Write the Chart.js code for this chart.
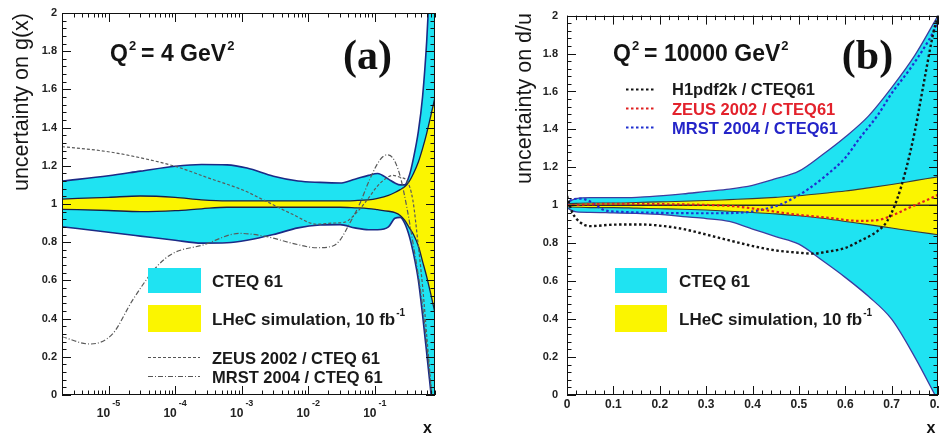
<!DOCTYPE html>
<html>
<head>
<meta charset="utf-8">
<script src="https://cdn.jsdelivr.net/npm/chart.js@4.4.1/dist/chart.umd.min.js"></script>
<style>
  html, body { margin: 0; padding: 0; background: #fff; }
  #wrap { position: relative; width: 940px; height: 434px; overflow: hidden; }
  canvas { position: absolute; top: 0; }
  #cA { left: 0; }
  #cB { left: 470px; }
</style>
</head>
<body>
<div id="wrap">
  <canvas id="cA" width="470" height="434"></canvas>
  <canvas id="cB" width="470" height="434"></canvas>
</div>
<script>
// ---- panel (a): uncertainty on g(x), Q^2 = 4 GeV^2 (log x) ----
const bandXA   = [2e-6, 1e-5, 3e-5, 1e-4, 2.5e-4, 6e-4, 1.2e-3, 3e-3, 7e-3, 0.015, 0.03, 0.05, 0.08, 0.11, 0.16, 0.2, 0.24, 0.28, 0.33, 0.38, 0.45, 0.52, 0.6, 0.7, 0.8];
const cteqHiA  = [1.12, 1.148, 1.172, 1.198, 1.207, 1.205, 1.188, 1.145, 1.12, 1.113, 1.11, 1.13, 1.15, 1.16, 1.13, 1.11, 1.10, 1.10, 1.15, 1.24, 1.38, 1.56, 1.85, 2.3, 2.8];
const cteqLoA  = [0.881, 0.852, 0.832, 0.81, 0.795, 0.797, 0.81, 0.84, 0.875, 0.89, 0.892, 0.875, 0.865, 0.865, 0.88, 0.925, 0.93, 0.90, 0.83, 0.74, 0.60, 0.42, 0.22, 0.0, -0.2];
const lhecHiA  = [1.026, 1.035, 1.042, 1.035, 1.022, 1.016, 1.016, 1.016, 1.016, 1.016, 1.016, 1.018, 1.022, 1.03, 1.045, 1.06, 1.075, 1.09, 1.12, 1.16, 1.22, 1.29, 1.37, 1.47, 1.56];
const lhecLoA  = [0.972, 0.966, 0.96, 0.965, 0.975, 0.983, 0.983, 0.983, 0.983, 0.983, 0.983, 0.98, 0.976, 0.97, 0.962, 0.955, 0.94, 0.915, 0.875, 0.84, 0.78, 0.70, 0.62, 0.52, 0.43];

const zeusXA = [2e-6, 7.3e-6, 1.86e-5, 1.05e-4, 3.3e-4, 1.04e-3, 2.4e-3, 5.8e-3, 0.0134, 0.0233, 0.0354, 0.05, 0.076, 0.107, 0.141, 0.187, 0.238, 0.303, 0.372, 0.443, 0.527, 0.605, 0.695, 0.8];
const zeusYA = [1.30, 1.28, 1.257, 1.195, 1.134, 1.073, 1.012, 0.946, 0.894, 0.90, 0.905, 0.945, 1.02, 1.09, 1.13, 1.15, 1.14, 1.12, 1.02, 0.8, 0.55, 0.3, 0.05, -0.2];
const mrstXA = [2e-6, 5.2e-6, 1.15e-5, 2.3e-5, 5.3e-5, 9.1e-5, 2.6e-4, 9.3e-4, 2.4e-3, 5.8e-3, 0.0134, 0.0233, 0.0298, 0.042, 0.059, 0.084, 0.119, 0.151, 0.187, 0.238, 0.303, 0.372, 0.443, 0.527, 0.627, 0.72, 0.8];
const mrstYA = [0.305, 0.267, 0.32, 0.497, 0.672, 0.74, 0.785, 0.846, 0.829, 0.794, 0.771, 0.78, 0.81, 0.9, 1.0, 1.13, 1.23, 1.257, 1.24, 1.15, 0.98, 0.8, 0.64, 0.45, 0.2, 0.0, -0.15];

const decadesA = [-5, -4, -3, -2, -1];

// ---- panel (b): uncertainty on d/u, Q^2 = 10000 GeV^2 (linear x) ----
const bandXB  = [0, 0.02, 0.05, 0.1, 0.15, 0.2, 0.25, 0.3, 0.35, 0.4, 0.45, 0.5, 0.55, 0.6, 0.65, 0.7, 0.75, 0.8];
const cteqHiB = [1.015, 1.035, 1.04, 1.04, 1.042, 1.05, 1.06, 1.073, 1.085, 1.105, 1.14, 1.18, 1.265, 1.36, 1.47, 1.62, 1.79, 2.0];
const cteqLoB = [0.985, 0.965, 0.963, 0.96, 0.957, 0.952, 0.94, 0.93, 0.915, 0.875, 0.835, 0.795, 0.71, 0.62, 0.52, 0.4, 0.2, -0.03];
const lhecHiB = [1.008, 1.01, 1.012, 1.012, 1.015, 1.018, 1.021, 1.025, 1.03, 1.035, 1.042, 1.05, 1.062, 1.075, 1.092, 1.11, 1.13, 1.15];
const lhecLoB = [0.992, 0.99, 0.988, 0.988, 0.985, 0.982, 0.979, 0.975, 0.969, 0.962, 0.955, 0.945, 0.932, 0.915, 0.898, 0.88, 0.862, 0.845];

const h1XB = [0, 0.01, 0.02, 0.035, 0.05, 0.1, 0.16, 0.21, 0.25, 0.3, 0.35, 0.41, 0.45, 0.5, 0.53, 0.56, 0.6, 0.63, 0.67, 0.69, 0.71, 0.73, 0.75, 0.76, 0.775, 0.79, 0.8];
const h1YB = [1.05, 0.97, 0.93, 0.9, 0.89, 0.898, 0.899, 0.89, 0.875, 0.846, 0.815, 0.78, 0.762, 0.75, 0.745, 0.755, 0.775, 0.81, 0.865, 0.915, 1.02, 1.18, 1.39, 1.52, 1.72, 1.91, 2.0];
const zeusXB = [0, 0.05, 0.1, 0.2, 0.3, 0.36, 0.42, 0.49, 0.56, 0.63, 0.67, 0.7, 0.74, 0.78, 0.8];
const zeusYB = [1.0, 1.005, 1.008, 1.006, 1.002, 0.995, 0.977, 0.952, 0.935, 0.918, 0.922, 0.945, 0.99, 1.032, 1.056];
const mrstXB = [0, 0.01, 0.03, 0.05, 0.08, 0.12, 0.2, 0.3, 0.38, 0.42, 0.46, 0.49, 0.52, 0.56, 0.6, 0.63, 0.67, 0.7, 0.74, 0.78, 0.8];
const mrstYB = [1.0, 1.03, 1.035, 1.02, 0.975, 0.965, 0.96, 0.958, 0.962, 0.977, 1.004, 1.04, 1.085, 1.16, 1.25, 1.35, 1.475, 1.59, 1.72, 1.87, 1.96];
const unityX = [0, 0.8];
const unityY = [1, 1];

const xTicksB = [0, 0.1, 0.2, 0.3, 0.4, 0.5, 0.6, 0.7, 0.8];

const CYAN = '#1fe3f2';
const YELLOW = '#fbf500';
const SANS = "'Liberation Sans', Arial, sans-serif";
Chart.defaults.font.family = SANS;

const pts = (xs, ys) => xs.map((x, i) => ({ x, y: ys[i] }));

function curve(xs, ys, color, width, dash, extra) {
    return Object.assign({
        data: pts(xs, ys),
        borderColor: color,
        borderWidth: width,
        borderDash: dash || [],
        pointRadius: 0,
        fill: false,
        cubicInterpolationMode: 'monotone'
    }, extra || {});
}

function band(xs, hi, lo, fillColor, edge, width) {
    return [
        curve(xs, hi, edge, width, null, { fill: '+1', backgroundColor: fillColor }),
        curve(xs, lo, edge, width)
    ];
}

function drawTicks(ctx, chart, xTickList) {
    const a = chart.chartArea, ys = chart.scales.y, xs = chart.scales.x;
    ctx.strokeStyle = '#111';
    ctx.lineWidth = 1;
    ctx.beginPath();
    for (let k = 0; k <= 50; k++) {
        const p = Math.round(ys.getPixelForValue(k * 0.04)) + 0.5;
        const len = k % 5 === 0 ? 9 : 4.5;
        ctx.moveTo(a.left, p); ctx.lineTo(a.left + len, p);
        ctx.moveTo(a.right, p); ctx.lineTo(a.right - len, p);
    }
    xTickList.forEach(t => {
        const p = Math.round(xs.getPixelForValue(t.v)) + 0.5;
        const len = t.major ? 9 : 4.5;
        ctx.moveTo(p, a.bottom); ctx.lineTo(p, a.bottom - len);
        ctx.moveTo(p, a.top); ctx.lineTo(p, a.top + len);
    });
    ctx.stroke();
    ctx.strokeRect(Math.round(a.left) + 0.5, Math.round(a.top) + 0.5,
        Math.round(a.right - a.left) - 1, Math.round(a.bottom - a.top) - 1);
}

function yTitle(ctx, text, x) {
    ctx.save();
    ctx.translate(x, 13);
    ctx.rotate(-Math.PI / 2);
    ctx.font = `21.5px ${SANS}`;
    ctx.fillStyle = '#161616';
    ctx.textAlign = 'right';
    ctx.textBaseline = 'alphabetic';
    ctx.fillText(text, 0, 0);
    ctx.restore();
}

function qLabel(ctx, x, value) {
    ctx.fillStyle = '#141414';
    ctx.textAlign = 'left';
    ctx.textBaseline = 'alphabetic';
    ctx.font = `bold 23px ${SANS}`;
    ctx.fillText('Q', x, 61);
    let cx = x + ctx.measureText('Q').width + 1;
    ctx.font = `bold 13px ${SANS}`;
    ctx.fillText('2', cx, 50);
    cx += ctx.measureText('2').width + 5;
    ctx.font = `bold 23px ${SANS}`;
    const body = `= ${value} GeV`;
    ctx.fillText(body, cx, 61);
    cx += ctx.measureText(body).width + 1;
    ctx.font = `bold 13px ${SANS}`;
    ctx.fillText('2', cx, 50);
}

function legendText(ctx, text, x, y, color, size, sup) {
    ctx.fillStyle = color;
    ctx.textAlign = 'left';
    ctx.textBaseline = 'alphabetic';
    ctx.font = `bold ${size}px ${SANS}`;
    ctx.fillText(text, x, y);
    if (sup) {
        const w = ctx.measureText(text).width;
        ctx.font = `bold 10px ${SANS}`;
        ctx.fillText(sup, x + w + 1, y - 9);
    }
}

function legendLine(ctx, x0, x1, y, color, width, dash) {
    ctx.save();
    ctx.strokeStyle = color;
    ctx.lineWidth = width;
    ctx.setLineDash(dash);
    ctx.beginPath();
    ctx.moveTo(x0, y); ctx.lineTo(x1, y);
    ctx.stroke();
    ctx.restore();
}

function panelLetter(ctx, text, cx) {
    ctx.fillStyle = '#111';
    ctx.textAlign = 'center';
    ctx.textBaseline = 'alphabetic';
    ctx.font = "bold 42px 'Liberation Serif', 'Times New Roman', serif";
    ctx.fillText(text, cx, 69);
}

function axisX(ctx, x) {
    ctx.fillStyle = '#111';
    ctx.textAlign = 'center';
    ctx.textBaseline = 'alphabetic';
    ctx.font = `bold 16px ${SANS}`;
    ctx.fillText('x', x, 433);
}

// log ticks for panel (a)
const logTicksA = [];
for (let e = -6; e <= 0; e++) {
    for (let m = 1; m <= 9; m++) {
        const v = m * Math.pow(10, e);
        if (v >= 2e-6 && v <= 0.8) logTicksA.push({ v, major: m === 1 });
    }
}
const linTicksB = [];
for (let k = 0; k <= 40; k++) linTicksB.push({ v: k * 0.02, major: k % 5 === 0 });

const decorA = {
    id: 'decorA',
    afterDraw(chart) {
        const ctx = chart.ctx, xs = chart.scales.x;
        ctx.save();
        drawTicks(ctx, chart, logTicksA);

        // decade labels 10^n
        ctx.fillStyle = '#222';
        ctx.textBaseline = 'alphabetic';
        ctx.textAlign = 'left';
        decadesA.forEach(n => {
            const p = xs.getPixelForValue(Math.pow(10, n));
            ctx.font = `bold 12px ${SANS}`;
            const w10 = ctx.measureText('10').width;
            ctx.font = `bold 9px ${SANS}`;
            const we = ctx.measureText(String(n)).width;
            const x0 = p - (w10 + 2 + we) / 2;
            ctx.font = `bold 12px ${SANS}`;
            ctx.fillText('10', x0, 417);
            ctx.font = `bold 9px ${SANS}`;
            ctx.fillText(String(n), x0 + w10 + 2, 406);
        });

        axisX(ctx, 427.5);
        yTitle(ctx, 'uncertainty on g(x)', 27.5);
        qLabel(ctx, 110, '4');
        panelLetter(ctx, '(a)', 367.5);

        // legend
        ctx.fillStyle = CYAN;
        ctx.fillRect(148, 268, 53, 25);
        ctx.fillStyle = YELLOW;
        ctx.fillRect(148, 305, 53, 27);
        legendText(ctx, 'CTEQ 61', 212, 287, '#1a1a1a', 17);
        legendText(ctx, 'LHeC simulation, 10 fb', 212, 325, '#1a1a1a', 17, '-1');
        legendLine(ctx, 148, 200, 357.5, '#555', 1.2, [3, 2]);
        legendLine(ctx, 148, 200, 376.5, '#555', 1.2, [5, 2, 1, 2]);
        legendText(ctx, 'ZEUS 2002 / CTEQ 61', 212, 364, '#1a1a1a', 16.5);
        legendText(ctx, 'MRST 2004 / CTEQ 61', 212, 383, '#1a1a1a', 16.5);
        ctx.restore();
    }
};

const decorB = {
    id: 'decorB',
    afterDraw(chart) {
        const ctx = chart.ctx, xs = chart.scales.x;
        ctx.save();
        drawTicks(ctx, chart, linTicksB);

        ctx.fillStyle = '#222';
        ctx.textAlign = 'center';
        ctx.textBaseline = 'alphabetic';
        ctx.font = `bold 12px ${SANS}`;
        xTicksB.forEach(v => {
            ctx.fillText(String(v), xs.getPixelForValue(v), 408);
        });

        axisX(ctx, 461);
        yTitle(ctx, 'uncertainty on d/u', 61);
        qLabel(ctx, 143, '10000');
        panelLetter(ctx, '(b)', 397.5);

        legendLine(ctx, 156, 185, 89.5, '#111', 2.2, [2.5, 2.5]);
        legendLine(ctx, 156, 185, 108.5, '#e02020', 2.2, [2.5, 2.5]);
        legendLine(ctx, 156, 185, 127.5, '#2030d0', 2.2, [2.5, 2.5]);
        legendText(ctx, 'H1pdf2k / CTEQ61', 202, 95, '#1a1a1a', 16.5);
        legendText(ctx, 'ZEUS 2002 / CTEQ61', 202, 115, '#e3222c', 16.5);
        legendText(ctx, 'MRST 2004 / CTEQ61', 202, 134, '#2424c8', 16.5);

        ctx.fillStyle = CYAN;
        ctx.fillRect(145, 268, 52, 25);
        ctx.fillStyle = YELLOW;
        ctx.fillRect(145, 305, 52, 27);
        legendText(ctx, 'CTEQ 61', 209, 287, '#1a1a1a', 17);
        legendText(ctx, 'LHeC simulation, 10 fb', 209, 325, '#1a1a1a', 17, '-1');
        ctx.restore();
    }
};

function baseOptions(xScale, yWidth, yPad, rightPad) {
    return {
        responsive: false,
        animation: false,
        layout: { padding: { left: 0, top: 13, right: rightPad, bottom: 0 } },
        plugins: {
            legend: { display: false },
            tooltip: { enabled: false },
            filler: { drawTime: 'beforeDatasetsDraw' }
        },
        scales: {
            x: Object.assign({
                ticks: { display: false },
                grid: { display: false, drawTicks: false },
                border: { display: false },
                afterFit: s => { s.height = 39; }
            }, xScale),
            y: {
                min: 0, max: 2,
                ticks: {
                    stepSize: 0.2, padding: yPad, color: '#222',
                    font: { size: 11, weight: 'bold', family: SANS },
                    callback: v => String(Math.round(v * 10) / 10)
                },
                grid: { display: false, drawTicks: false },
                border: { display: false },
                afterFit: s => { s.width = yWidth; }
            }
        }
    };
}

new Chart(document.getElementById('cA'), {
    type: 'line',
    data: {
        datasets: [
            curve(zeusXA, zeusYA, '#5a5a5a', 1.2, [3, 2]),
            curve(mrstXA, mrstYA, '#5a5a5a', 1.2, [5, 2, 1, 2]),
            ...band(bandXA, lhecHiA, lhecLoA, YELLOW, '#1a1d45', 1.3),
            ...band(bandXA, cteqHiA, cteqLoA, CYAN, '#1b2a86', 1.6)
        ]
    },
    options: baseOptions({ type: 'logarithmic', min: 2e-6, max: 0.8 }, 62, 5, 35),
    plugins: [decorA]
});

new Chart(document.getElementById('cB'), {
    type: 'line',
    data: {
        datasets: [
            curve(h1XB, h1YB, '#151515', 2.4, [2.5, 2.5]),
            curve(zeusXB, zeusYB, '#e02020', 2.2, [2.5, 2.5]),
            curve(mrstXB, mrstYB, '#2030d0', 2.2, [2.5, 2.5]),
            curve(unityX, unityY, '#2a2a2a', 1.5),
            ...band(bandXB, lhecHiB, lhecLoB, YELLOW, '#3a3a3a', 1.1),
            ...band(bandXB, cteqHiB, cteqLoB, CYAN, '#3c3ca0', 1.3)
        ]
    },
    options: baseOptions({ type: 'linear', min: 0, max: 0.8 }, 97, 9, 2),
    plugins: [decorB]
});
</script>
</body>
</html>
